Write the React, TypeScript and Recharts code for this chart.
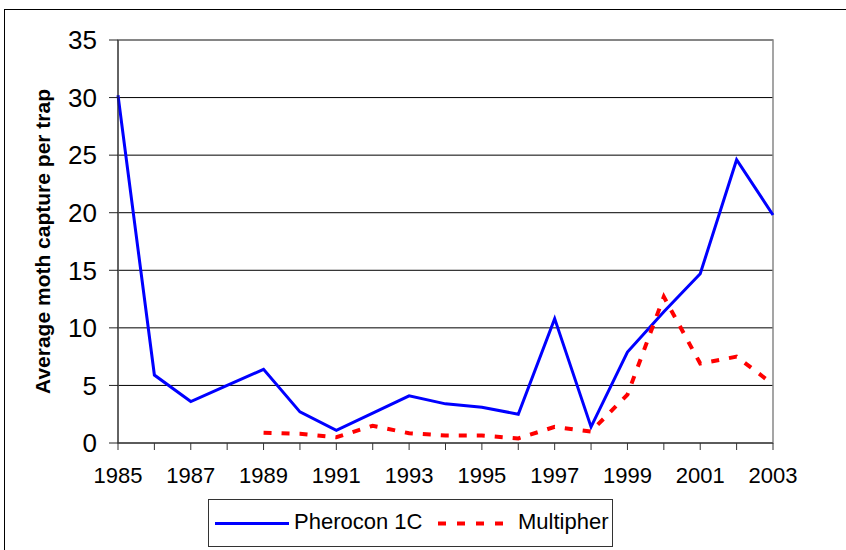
import React from "react";
import {
  LineChart,
  Line,
  XAxis,
  YAxis,
  CartesianGrid,
  Legend,
  ReferenceArea,
} from "recharts";

const FONT = "'Liberation Sans', Arial, sans-serif";

// trap catches per season
const years = [
  1985, 1986, 1987, 1988, 1989, 1990, 1991, 1992, 1993, 1994, 1995, 1996,
  1997, 1998, 1999, 2000, 2001, 2002, 2003,
];
const pherocon = [
  30.2, 5.9, 3.6, 5.0, 6.4, 2.7, 1.1, 2.6, 4.1, 3.4, 3.1, 2.5, 10.8, 1.4, 7.9,
  11.4, 14.7, 24.6, 19.8,
];
const multipher = [
  null, null, null, null, 0.9, 0.8, 0.5, 1.5, 0.85, 0.65, 0.65, 0.4, 1.4, 1.0,
  4.2, 12.7, 6.9, 7.5, 5.1,
];
const yTicks = [0, 5, 10, 15, 20, 25, 30, 35];

const data = years.map((year, i) => ({
  year,
  pherocon: pherocon[i],
  multipher: multipher[i],
}));

function LegendBox() {
  return (
    <svg width={405} height={48} style={{ display: "block" }}>
      <rect x={0.5} y={0.5} width={404} height={47} fill="#fff" stroke="#333" />
      <line x1={7} y1={24.5} x2={81} y2={24.5} stroke="#0000ff" strokeWidth={3} />
      <text x={86} y={29.5} fontSize={22} fontFamily={FONT} fill="#000">
        Pherocon 1C
      </text>
      <line
        x1={230}
        y1={24.5}
        x2={304}
        y2={24.5}
        stroke="#ff0000"
        strokeWidth={4}
        strokeDasharray="8 11"
      />
      <text x={310} y={29.5} fontSize={22} fontFamily={FONT} fill="#000">
        Multipher
      </text>
    </svg>
  );
}

export default function App() {
  return (
    <div
      style={{
        position: "absolute",
        left: 0,
        top: 0,
        width: 846,
        height: 550,
        overflow: "hidden",
        background: "#fff",
      }}
    >
      {/* outer chart frame */}
      <div
        style={{
          position: "absolute",
          left: 4,
          top: 9,
          width: 900,
          height: 600,
          border: "1px solid #000",
        }}
      />
      <div style={{ position: "absolute", left: 0, top: 0 }}>
        <LineChart
          width={846}
          height={550}
          data={data}
          margin={{ top: 40, right: 73, bottom: 77, left: 18 }}
        >
          <CartesianGrid vertical={false} stroke="#000" strokeWidth={1} />
          <ReferenceArea
            x1={1985}
            x2={2003}
            y1={0}
            y2={35}
            fill="none"
            stroke="#888"
            strokeWidth={1.5}
          />
          <XAxis
            dataKey="year"
            type="number"
            domain={[1985, 2003]}
            ticks={years}
            interval={0}
            height={30}
            tickSize={7}
            tickMargin={17}
            stroke="#333"
            tickFormatter={(v: number) => (v % 2 === 1 ? String(v) : "")}
            tick={{ fill: "#000", fontSize: 22, fontFamily: FONT }}
          />
          <YAxis
            type="number"
            domain={[0, 35]}
            ticks={yTicks}
            interval={0}
            width={100}
            tickSize={9}
            tickMargin={12}
            stroke="#222"
            tick={{ fill: "#000", fontSize: 26, fontFamily: FONT }}
            label={{
              value: "Average moth capture per trap",
              angle: -90,
              position: "center",
              dx: -25,
              style: {
                fontSize: 21,
                fontWeight: "bold",
                fontFamily: FONT,
                fill: "#000",
              },
            }}
          />
          <Line
            type="linear"
            dataKey="pherocon"
            name="Pherocon 1C"
            stroke="#0000ff"
            strokeWidth={3}
            dot={false}
            isAnimationActive={false}
          />
          <Line
            type="linear"
            dataKey="multipher"
            name="Multipher"
            stroke="#ff0000"
            strokeWidth={4}
            strokeDasharray="8 10"
            dot={false}
            isAnimationActive={false}
          />
          <Legend
            layout="horizontal"
            verticalAlign="middle"
            align="center"
            content={() => <LegendBox />}
            wrapperStyle={{ left: 208, top: 499, width: 405, height: 48 }}
          />
        </LineChart>
      </div>
    </div>
  );
}
